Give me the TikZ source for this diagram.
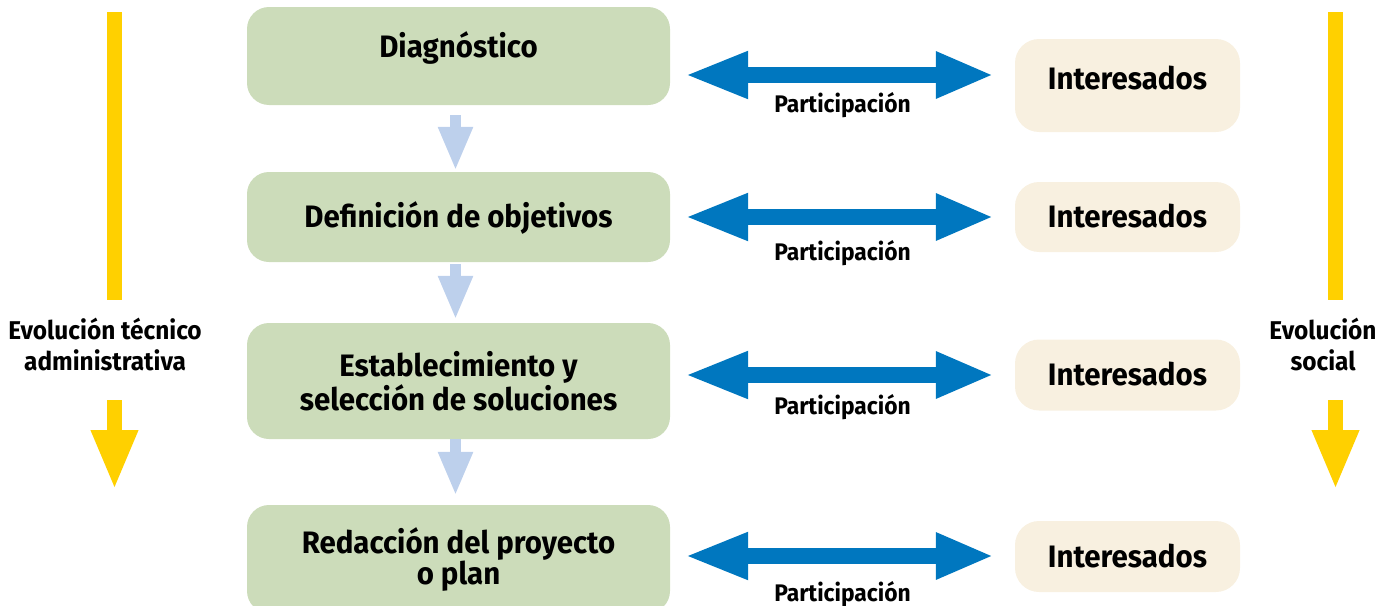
\documentclass[tikz,border=0pt]{standalone}
\usepackage{fontspec}
\setmainfont{Fira Sans}[FakeStretch=0.95]
\usetikzlibrary{arrows.meta, positioning}

\definecolor{stepgreen}{HTML}{CCDCBA}
\definecolor{stakecream}{HTML}{F8F0E0}
\definecolor{partblue}{HTML}{0077BF}
\definecolor{flowblue}{HTML}{BDD0EC}
\definecolor{evoyellow}{HTML}{FFD000}

\begin{document}
\begin{tikzpicture}[
    x=1pt, y=-1pt,
    phase/.style={
        rectangle,
        rounded corners=22pt,
        align=center,
        minimum width=423pt,
        fill=stepgreen,
        font=\fontsize{31}{31}\selectfont\bfseries
    },
    stake/.style={
        rectangle,
        rounded corners=24pt,
        align=center,
        minimum width=225pt,
        fill=stakecream,
        font=\fontsize{31}{31}\selectfont\bfseries
    },
    oneline/.style={text height=22pt, text depth=#1},
    oneline/.default=1pt,
    flow/.style={-{Triangle[width=32pt, length=44pt]}, line width=11pt, flowblue},
    part/.style={
        {Triangle[width=43pt, length=64pt]}-{Triangle[width=43pt, length=58pt]},
        line width=16pt, partblue,
        shorten <=14pt, shorten >=21pt
    },
    partlabel/.style={font=\fontsize{24}{26}\selectfont\bfseries, text=black},
    evobar/.style={line width=15pt, evoyellow},
    evoarrow/.style={-{Triangle[width=43pt, length=60pt]}, line width=15pt, evoyellow},
    evolabel/.style={align=center, font=\fontsize{25.7}{31}\selectfont\bfseries}
]
\useasboundingbox (0,0) rectangle (1392,605);
\clip (0,0) rectangle (1392,605);

% Phases of the plan
\node[phase, oneline=19pt, minimum height=98pt] (diag) at (458.5,56) {Diagnóstico};
\node[phase, oneline, minimum height=90pt] (objet) at (458.5,217) {Definición de objetivos};
\node[phase, minimum height=116pt] (soluc) at (458.5,381) {Establecimiento y\\selección de soluciones};
\node[phase, minimum height=108pt] (redac) at (458.5,559) {Redacción del proyecto\\o plan};

% Stakeholders
\node[stake, oneline=14pt, minimum height=93pt] (int1) at (1127.5,85.5) {Interesados};
\node[stake, oneline, minimum height=70pt] (int2) at (1127.5,217) {Interesados};
\node[stake, oneline, minimum height=71pt] (int3) at (1127.5,375) {Interesados};
\node[stake, oneline, minimum height=71pt] (int4) at (1127.5,556.5) {Interesados};

% Rows of the participation arrows
\coordinate (row1) at (0,75);
\coordinate (row2) at (0,217);
\coordinate (row3) at (0,375);
\coordinate (row4) at (0,556);

% Evolution axes
\node[evolabel] (tec) at (105,344) {Evolución técnico\\administrativa};
\node[evolabel] (soc) at (1323,344) {Evolución\\social};
\coordinate (tecTop) at (114.5,12);
\coordinate (tecEnd) at (114.5,300);
\coordinate (tecFrom) at (114.5,400);
\coordinate (tecTo) at (114.5,490);
\coordinate (socTop) at (1335.5,12);
\coordinate (socEnd) at (1335.5,300);
\coordinate (socFrom) at (1335.5,400);
\coordinate (socTo) at (1335.5,490);

% Arrows
\draw[flow, shorten <=10pt, shorten >=1pt] ([xshift=-3pt]diag.south) -- ([xshift=-3pt]objet.north);
\draw[flow, shorten <=2pt, shorten >=3pt] ([xshift=-3pt]objet.south) -- ([xshift=-3pt]soluc.north);
\draw[flow, shorten >=9pt] ([xshift=-3pt]soluc.south) -- ([xshift=-3pt]redac.north);

\draw[part] (diag.east |- row1) -- (int1.west |- row1)
    node[partlabel, midway, yshift=-30pt] {Participación};
\draw[part] (objet.east |- row2) -- (int2.west |- row2)
    node[partlabel, midway, yshift=-36pt] {Participación};
\draw[part] (soluc.east |- row3) -- (int3.west |- row3)
    node[partlabel, midway, yshift=-32pt] {Participación};
\draw[part] (redac.east |- row4) -- (int4.west |- row4)
    node[partlabel, midway, yshift=-38pt] {Participación};

\draw[evobar] (tecTop) -- (tecEnd);
\draw[evoarrow] (tecFrom) -- (tecTo);
\draw[evobar] (socTop) -- (socEnd);
\draw[evoarrow] (socFrom) -- (socTo);

\end{tikzpicture}
\end{document}
